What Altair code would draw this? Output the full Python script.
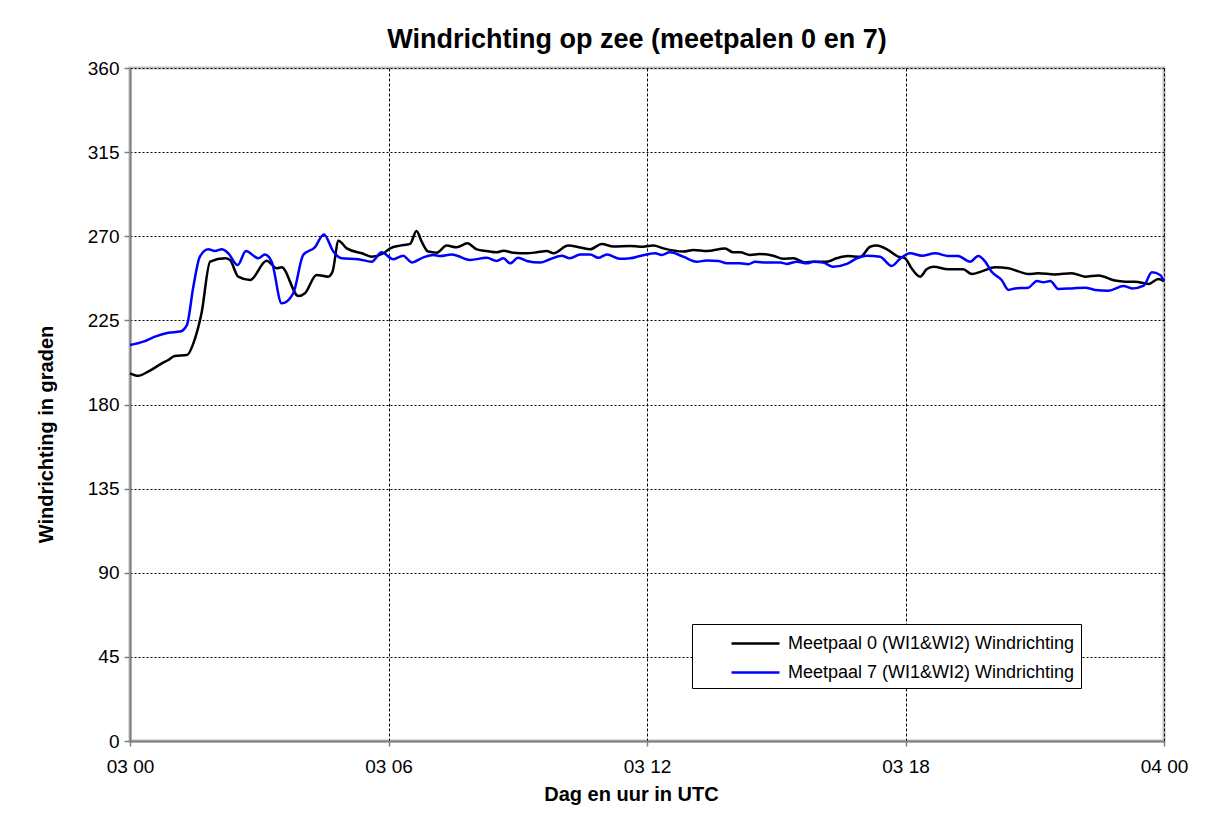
import json
import altair as alt
import pandas as pd

# ---- data (hours after 03 00 UTC, direction in degrees) ----
hours_0 = [0.00, 0.19, 0.42, 0.74, 0.89, 1.04, 1.32, 1.51, 1.66, 1.86, 2.21, 2.32, 2.51, 2.79,
           3.17, 3.41, 3.52, 3.91, 4.06, 4.33, 4.60, 4.70, 4.84, 5.03, 5.38, 5.61, 5.88, 6.04,
           6.27, 6.50, 6.65, 6.77, 6.92, 7.12, 7.35, 7.58, 7.83, 8.05, 8.28, 8.51, 8.67, 8.90,
           9.21, 9.44, 9.67, 9.83, 10.17, 10.45, 10.68, 10.95, 11.22, 11.61, 11.84, 12.15, 12.38,
           12.84, 13.08, 13.39, 13.81, 14.00, 14.16, 14.39, 14.62, 14.93, 15.16, 15.40, 15.67,
           15.86, 16.17, 16.40, 16.67, 16.95, 17.18, 17.33, 17.57, 17.83, 17.99, 18.14, 18.34,
           18.49, 18.65, 18.99, 19.34, 19.54, 19.77, 20.08, 20.39, 20.62, 20.85, 21.08, 21.47,
           21.86, 22.17, 22.48, 22.86, 23.10, 23.33, 23.64, 23.87, 24.00]
dir_0 = [196.7, 195.4, 197.6, 202.0, 203.8, 206.0, 206.5, 215.4, 228.8, 256.4, 258.2, 257.3, 248.4, 246.6,
         256.9, 252.9, 253.4, 238.0, 239.5, 249.3, 248.4, 251.0, 267.6, 263.5, 260.9, 259.1, 260.9, 263.5,
         265.0, 265.9, 272.8, 267.1, 261.8, 261.2, 265.0, 264.1, 266.2, 263.0, 262.1, 261.4, 262.3, 261.2,
         260.9, 261.4, 262.1, 260.9, 265.0, 264.0, 263.0, 265.9, 264.5, 264.8, 264.4, 265.0, 263.5,
         261.8, 262.7, 262.1, 263.5, 261.4, 261.4, 260.0, 260.5, 259.6, 257.9, 258.2, 256.0,
         256.4, 256.4, 258.2, 259.4, 259.0, 264.4, 265.0, 263.0, 259.1, 258.2, 252.9, 248.4,
         252.3, 253.7, 252.3, 252.3, 249.8, 251.2, 253.4, 252.9, 251.2, 249.8, 250.2, 249.6,
         250.2, 248.4, 249.0, 246.3, 245.7, 245.7, 244.5, 247.1, 246.0]

hours_7 = [0.00, 0.31, 0.58, 0.89, 1.16, 1.32, 1.47, 1.62, 1.82, 1.97, 2.13, 2.28, 2.50, 2.69, 2.98,
           3.13, 3.29, 3.52, 3.79, 4.02, 4.29, 4.50, 4.72, 4.91, 5.30, 5.61, 5.84, 6.11, 6.34, 6.54,
           6.81, 7.04, 7.20, 7.47, 7.89, 8.28, 8.51, 8.67, 8.82, 9.01, 9.21, 9.52, 9.75, 10.02, 10.21,
           10.45, 10.68, 10.87, 11.07, 11.37, 11.61, 11.84, 12.19, 12.34, 12.53, 12.84, 13.15, 13.39,
           13.66, 13.85, 14.16, 14.35, 14.51, 14.78, 15.09, 15.24, 15.48, 15.71, 15.86, 16.09, 16.32,
           16.64, 16.87, 17.10, 17.41, 17.68, 17.87, 18.11, 18.38, 18.69, 18.99, 19.22, 19.50, 19.69,
           19.85, 20.00, 20.23, 20.39, 20.54, 20.85, 21.05, 21.20, 21.36, 21.55, 21.86, 22.17, 22.40,
           22.71, 23.06, 23.26, 23.53, 23.72, 23.91, 24.00]
dir_7 = [211.8, 213.6, 216.3, 218.4, 219.0, 222.5, 243.0, 259.0, 263.0, 262.1, 263.0, 260.9, 254.6, 262.1, 258.2,
         260.3, 256.4, 234.1, 239.5, 260.0, 264.1, 271.0, 261.8, 258.2, 257.7, 256.4, 261.4, 257.7, 259.6, 256.0,
         258.7, 260.0, 259.4, 260.3, 257.3, 258.5, 256.8, 258.2, 255.5, 258.5, 256.8, 255.9, 257.7, 259.6, 258.2,
         260.3, 260.3, 258.5, 260.3, 257.9, 258.2, 259.4, 260.9, 260.0, 261.4, 259.1, 256.4, 257.0,
         256.8, 255.5, 255.5, 255.0, 256.4, 255.9, 256.0, 255.2, 256.4, 255.5, 256.4, 255.9, 253.7,
         255.2, 258.2, 259.6, 259.0, 254.1, 257.9, 260.9, 259.6, 260.9, 259.4, 259.4, 256.4, 259.4,
         256.4, 251.0, 246.6, 241.3, 242.1, 242.5, 246.1, 245.4, 246.1, 241.8, 242.1, 242.5, 241.3,
         240.9, 243.4, 242.1, 243.6, 250.7, 249.3, 246.0]

series_names = ["Meetpaal 0 (WI1&WI2) Windrichting", "Meetpaal 7 (WI1&WI2) Windrichting"]
series_colors = ["#000000", "#0000FF"]
x_tick_values = [0, 6, 12, 18, 24]
x_tick_labels = ["03 00", "03 06", "03 12", "03 18", "04 00"]
y_tick_values = [0, 45, 90, 135, 180, 225, 270, 315, 360]

df = pd.concat([
    pd.DataFrame({"uur": hours_0, "richting": dir_0, "serie": series_names[0]}),
    pd.DataFrame({"uur": hours_7, "richting": dir_7, "serie": series_names[1]}),
])

FONT = "Liberation Sans"

chart = alt.Chart(df).mark_line(strokeWidth=2.5, interpolate="monotone").encode(
    x=alt.X("uur:Q",
            scale=alt.Scale(domain=[0, 24], nice=False, zero=False),
            axis=alt.Axis(values=x_tick_values,
                          labelExpr=f"{json.dumps(x_tick_labels)}[datum.value / 6]",
                          labelFlush=False,
                          title="Dag en uur in UTC",
                          titleX=501, titleY=59, titleBaseline="alphabetic", titleAnchor="start",
                          titleAlign="center",
                          tickSize=5, labelPadding=11,
                          grid=True, gridDash=[3, 2], gridColor="#000000", gridWidth=1)),
    y=alt.Y("richting:Q",
            scale=alt.Scale(domain=[0, 360], nice=False),
            axis=alt.Axis(values=y_tick_values,
                          title="Windrichting in graden",
                          titleX=-78, titleY=366, titleBaseline="alphabetic", titleAlign="center",
                          titleAngle=-90,
                          tickSize=6, labelPadding=5,
                          grid=True, gridDash=[2, 2], gridColor="#000000", gridWidth=1)),
    color=alt.Color("serie:N",
                    scale=alt.Scale(domain=series_names, range=series_colors),
                    legend=alt.Legend(orient="none", legendX=562, legendY=556, title=None,
                                      strokeColor="#000000", fillColor="#FFFFFF", padding=6,
                                      symbolType="M-2,0H2", symbolSize=576, symbolStrokeWidth=2.5,
                                      symbolOffset=44, labelOffset=19, labelFontSize=18,
                                      labelFont=FONT, labelColor="#000000", rowPadding=6,
                                      labelLimit=400)),
).properties(
    width=1034,
    height=673,
    title=alt.TitleParams("Windrichting op zee (meetpalen 0 en 7)", font=FONT, fontSize=27,
                          fontWeight="bold", color="#000000", anchor="middle", dx=-10, dy=34,
                          offset=18, baseline="alphabetic"),
    autosize=alt.AutoSizeParams(type="none"),
    padding={"left": 122, "top": 60, "right": 33, "bottom": 65},
).configure_view(
    stroke="#C0C0C0", strokeWidth=3
).configure_axis(
    labelFont=FONT, labelFontSize=19, labelColor="#000000",
    titleFont=FONT, titleFontSize=20, titleFontWeight="bold", titleColor="#000000",
    domainColor="#808080", domainWidth=2, tickColor="#808080", tickWidth=1.5,
)

chart.save("out.html", embed_options={"renderer": "svg", "actions": False})
